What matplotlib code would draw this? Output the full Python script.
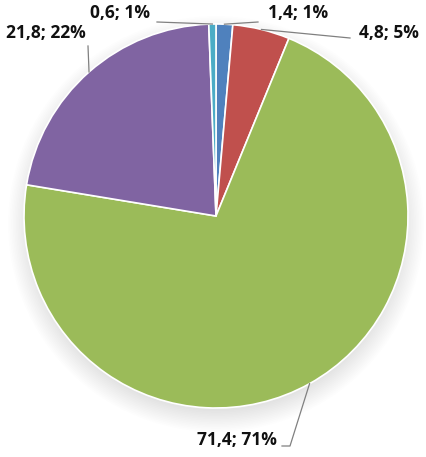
import matplotlib

matplotlib.use("Agg")
import matplotlib.pyplot as plt
import numpy as np
from matplotlib.patches import Circle

# data, clockwise from 12 o'clock
values = [1.4, 4.8, 71.4, 21.8, 0.6]
labels = ["1,4; 1%", "4,8; 5%", "71,4; 71%", "21,8; 22%", "0,6; 1%"]
colors = ["#4F81BD", "#C0504D", "#9BBB59", "#8064A2", "#4BACC6"]

W, H = 426, 457
CX, CY, R = 216, 216, 192

# label text centres and leader-line bends, in pixel coordinates (y down)
label_pos = [(298, 13), (389, 33), (237, 440), (46, 33), (120, 13)]
line_end = [(258, 22), (350, 38), (282, 446), (88, 46), (157, 22)]
line_bend = [None, None, (290, 446), None, None]

fig = plt.figure(figsize=(W / 100, H / 100), dpi=100)
ax = fig.add_axes([0, 0, 1, 1])

# soft blurred shadow under the pie, shifted down
for i in range(14):
    ax.add_patch(Circle((CX, H - CY - 8), R + 16 - i * 1.6, color="#383848",
                        alpha=0.009, lw=0, zorder=0))

wedges, _ = ax.pie(values, colors=colors, startangle=90, counterclock=False,
                   center=(CX, H - CY), radius=R, frame=True,
                   wedgeprops=dict(edgecolor="white", linewidth=1.2))
ax.set_xlim(0, W)
ax.set_ylim(0, H)
ax.set_aspect("equal")
ax.axis("off")

total = sum(values)
start = 0.0
for i, v in enumerate(values):
    mid = np.deg2rad(start + v / total * 180.0)
    start += v / total * 360.0
    ex = CX + R * np.sin(mid)
    ey = CY - R * np.cos(mid)
    pts = [(ex, ey)]
    if line_bend[i] is not None:
        pts.append(line_bend[i])
    pts.append(line_end[i])
    xs = [p[0] for p in pts]
    ys = [H - p[1] for p in pts]
    ax.plot(xs, ys, color="#808080", lw=0.9, zorder=5)
    tx, ty = label_pos[i]
    ax.text(tx, H - ty, labels[i], ha="center", va="center", fontsize=12.5,
            fontweight="bold", family="Open Sans", color="#111111", zorder=6)

fig.savefig("out.png", dpi=100)
